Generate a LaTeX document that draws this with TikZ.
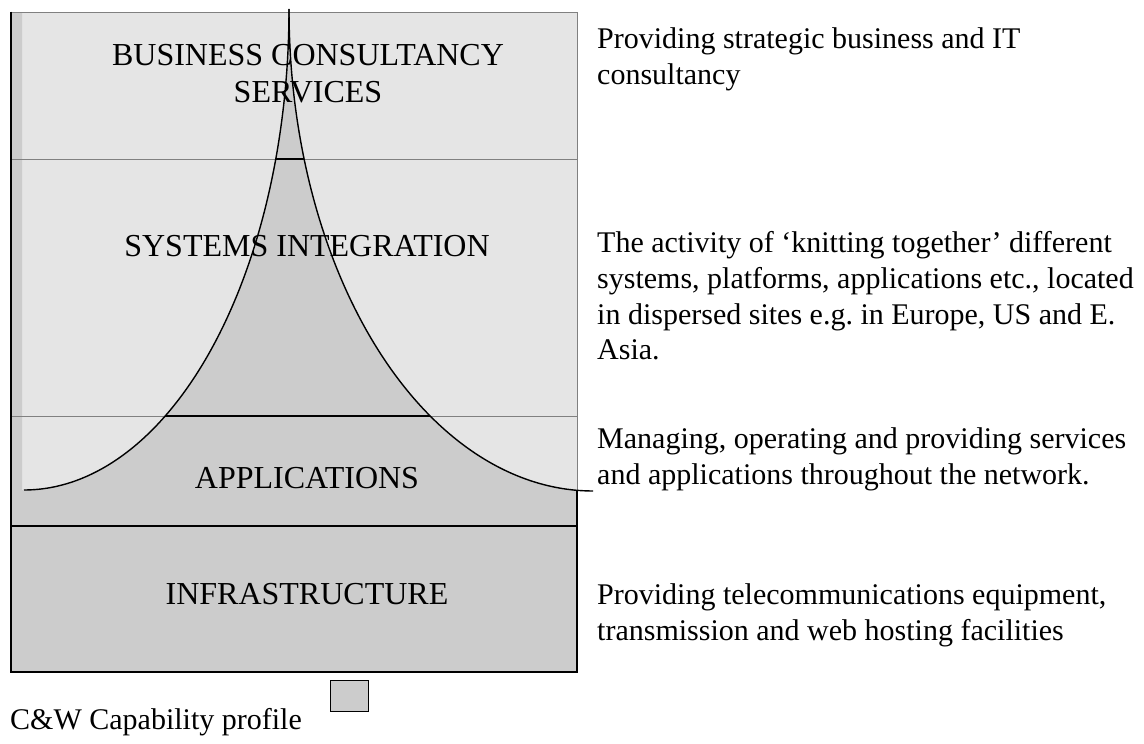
\documentclass[tikz,border=0pt]{standalone}
\usepackage{fontspec}
\setmainfont{Liberation Serif}
\frenchspacing
\definecolor{bandgray}{HTML}{E5E5E5}
\definecolor{profgray}{HTML}{CCCCCC}
\definecolor{rulegray}{HTML}{808080}
\begin{document}
\begin{tikzpicture}[x=1pt,y=-1pt,
  layerlabel/.style={font=\fontsize{32}{37}\selectfont, anchor=base, inner sep=0pt},
  desc/.style={font=\fontsize{30}{36}\selectfont, anchor=base west, inner sep=0pt},
  softrule/.style={draw=rulegray, line width=1pt},
  hardrule/.style={draw=black, line width=1.1pt},
  profileedge/.style={draw=black, line width=1.4pt}]
\useasboundingbox (0,0) rectangle (1144,744);

% layer bands
\fill[bandgray] (11,12) rectangle (577,526);
\fill[profgray] (11,526) rectangle (577,672);

% capability profile (two quarter-ellipse flanks), kept inside the frame
\begin{scope}
  \clip (11,12) rectangle (577,672);
  \fill[profgray] (11,526) -- (11,12) -- (22,12) -- (22,490)
    -- plot[domain=0:90, samples=90, smooth] ({24+265*sin(\x)}, {9+481*cos(\x)})
    -- plot[domain=0:90, samples=90, smooth] ({593-304*cos(\x)}, {9+482*sin(\x)})
    -- (593,526) -- cycle;
\end{scope}

% grey rules over the light bands
\draw[softrule] (11,12) -- (577,12);
\draw[softrule] (577,12) -- (577,490.3);
\draw[softrule] (11,159) -- (275.8,159);
\draw[softrule] (304.1,159) -- (577,159);
\draw[softrule] (11,416) -- (165.2,416);
\draw[softrule] (430.1,416) -- (577,416);

% black rules inside the profile
\draw[hardrule] (275.8,159) -- (304.1,159);
\draw[hardrule] (165.2,416) -- (430.1,416);
\draw[hardrule] (11,526) -- (577,526);
\draw[hardrule] (11,11.5) -- (11,672) -- (577,672) -- (577,490.3);

% profile flanks
\draw[profileedge] plot[domain=0:90, samples=90, smooth] ({24+265*sin(\x)}, {9+481*cos(\x)});
\draw[profileedge] plot[domain=0:90, samples=90, smooth] ({593-304*cos(\x)}, {9+482*sin(\x)});

% layer names
\node[layerlabel] (bcs1) at (308,65) {BUSINESS CONSULTANCY};
\node[layerlabel] (bcs2) at (308,102) {SERVICES};
\node[layerlabel] (si) at (307,256) {SYSTEMS INTEGRATION};
\node[layerlabel] (app) at (307,488) {APPLICATIONS};
\node[layerlabel] (infra) at (307,604) {INFRASTRUCTURE};

% descriptions
\node[desc] (d1a) at (597,48) {Providing strategic business and IT};
\node[desc] (d1b) at (597,84) {consultancy};
\node[desc] (d2a) at (597,252) {The activity of ‘knitting together’ different};
\node[desc] (d2b) at (597,288) {systems, platforms, applications etc., located};
\node[desc] (d2c) at (597,324) {in dispersed sites e.g.\ in Europe, US and E.};
\node[desc] (d2d) at (597,359) {Asia.};
\node[desc] (d3a) at (597,448) {Managing, operating and providing services};
\node[desc] (d3b) at (597,484) {and applications throughout the network.};
\node[desc] (d4a) at (597,604) {Providing telecommunications equipment,};
\node[desc] (d4b) at (597,640) {transmission and web hosting facilities};

% legend
\node[desc] (legtext) at (10,729) {C\&W Capability profile};
\node[draw=black, line width=1pt, fill=profgray, minimum width=38pt, minimum height=31pt, inner sep=0pt] (legbox) at (349,695.5) {};
\end{tikzpicture}
\end{document}
